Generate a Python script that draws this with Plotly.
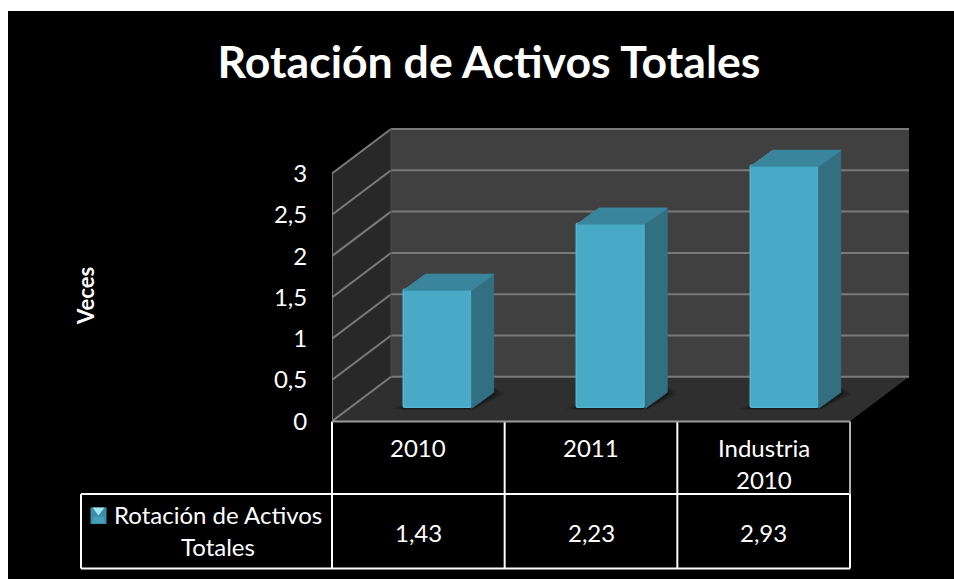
import plotly.graph_objects as go

# ---- data ----
title_text = "Rotación de Activos Totales"
y_title = "Veces"
series_name = "Rotación de Activos Totales"
categories = ["2010", "2011", "Industria 2010"]
category_lines = [["2010"], ["2011"], ["Industria", "2010"]]
values = [1.43, 2.23, 2.93]
tick_values = [0, 0.5, 1, 1.5, 2, 2.5, 3]

# ---- geometry (pixels of the 954x579 picture) ----
W, H = 954, 579
X0, X3 = 332, 850          # front edge of the floor
Y0 = 421.3                 # value 0 on the front edge
PX_UNIT = 82.6             # pixels per unit of value
PX_CAT = (X3 - X0) / 3     # pixels per category
DOM_R, DOM_T = 914, 125    # plot area right/top
DX, DY = 59 / PX_CAT, 44.5 / PX_UNIT      # depth of the box
BX, BY = 22 / PX_CAT, 16 / PX_UNIT        # depth of a bar
BASE = 13 / PX_UNIT
BAR_W = 68 / PX_CAT
BAR_OFF = 0.612
BAR_STEP = 173.5 / PX_CAT
LEFT, RIGHT, TOP_T, ROW1, ROW2, BOT = 81, 850, 421.5, 494, 494, 568.5

FONT = "Lato"
GRID = "#7a7a7a"


def px(x):
    return x / W


def py(y):
    return 1 - y / H


def path(pts):
    return "M " + " L ".join(f"{a},{b}" for a, b in pts) + " Z"


shapes = [
    dict(type="rect", xref="paper", yref="paper", x0=px(8), x1=1, y0=0, y1=py(11),
         fillcolor="black", line_width=0, layer="below"),
]


def poly(pts, fill, opacity=1, layer="below", ref="data", line=None):
    if ref != "data":
        pts = [(px(a), py(b)) for a, b in pts]
    d = dict(type="path", path=path(pts), fillcolor=fill, opacity=opacity, layer=layer,
             line=dict(width=0) if line is None else line)
    d["xref"], d["yref"] = ("x", "y") if ref == "data" else ("paper", "paper")
    shapes.append(d)


top = max(tick_values)
# side wall, back wall, floor
poly([(0, 0), (DX, DY), (DX, DY + top), (0, top)], "#282828")
poly([(DX, DY), (3 + DX, DY), (3 + DX, DY + top), (DX, DY + top)], "#404040")
poly([(0, 0), (3, 0), (3 + DX, DY), (DX, DY)], "#2f2f2f")

grid_line = dict(color=GRID, width=2)
for t in tick_values:
    for a, b, c, d in [(0, t, DX, t + DY), (DX, t + DY, 3 + DX, t + DY)]:
        shapes.append(dict(type="line", xref="x", yref="y", x0=a, y0=b, x1=c, y1=d,
                           line=grid_line, layer="below"))
shapes.append(dict(type="line", xref="x", yref="y", x0=0, y0=0, x1=0, y1=top,
                   line=grid_line, layer="below"))
shapes.append(dict(type="line", xref="x", yref="y", x0=DX, y0=DY, x1=DX, y1=top + DY,
                   line=dict(color="#4a4a4a", width=1), layer="below"))

bar_x = [BAR_OFF + i * BAR_STEP for i in range(len(values))]

# soft floor shadows
for cx in bar_x:
    l, r = cx - BAR_W / 2, cx + BAR_W / 2
    for grow, op in [(0.07, 0.25), (0.04, 0.35), (0.015, 0.5)]:
        poly([(l - grow, BASE - 0.01), (r + 0.01, BASE - 0.01),
              (r + BX + grow * 0.9, BASE + BY - 0.02), (r + BX, BASE + BY + 0.06),
              (l, BASE + 0.05)], "#141414", op)

traces = [
    go.Bar(x=bar_x, y=values, base=[BASE] * len(values), width=BAR_W, name=series_name,
           marker=dict(color="#48aac6", line=dict(color="#52b6d2", width=1.5), cornerradius=2),
           hoverinfo="skip", showlegend=False)
]
for cx, v in zip(bar_x, values):
    r, l = cx + BAR_W / 2, cx - BAR_W / 2
    y_top = BASE + v
    side_x = [r, r + BX, r + BX, r, r]
    side_y = [BASE, BASE + BY, y_top + BY, y_top, BASE]
    traces.append(go.Scatter(x=side_x, y=side_y, mode="lines", fill="toself", fillcolor="#326f80",
                             line=dict(color="#326f80", width=1), hoverinfo="skip", showlegend=False))
    top_x = [l, l + BX, r + BX, r, l]
    top_y = [y_top, y_top + BY, y_top + BY, y_top, y_top]
    traces.append(go.Scatter(x=top_x, y=top_y, mode="lines", fill="toself", fillcolor="#38859c",
                             line=dict(color="#3a8aa2", width=1), hoverinfo="skip", showlegend=False))

# data table lines
tbl = dict(color="white", width=2)
for x0, y0, x1, y1, ln in [
    (LEFT, ROW1, X3, ROW1, tbl),
    (LEFT, BOT, X3, BOT, tbl),
    (LEFT, ROW1, LEFT, BOT, tbl),
    (X0, TOP_T, X0, BOT, tbl),
    (X0 + PX_CAT, TOP_T, X0 + PX_CAT, BOT, tbl),
    (X0 + 2 * PX_CAT, TOP_T, X0 + 2 * PX_CAT, BOT, tbl),
    (X3, ROW1, X3, BOT, tbl),
    (X3, TOP_T, X3, ROW1, dict(color="#b0b0b0", width=2)),
    (X0, TOP_T, X3, TOP_T, dict(color="#9a9a9a", width=2)),
]:
    shapes.append(dict(type="line", xref="paper", yref="paper", x0=px(x0), y0=py(y0),
                       x1=px(x1), y1=py(y1), line=ln, layer="above"))

# legend key of the table: a small bevelled square, bright on its upper facet
K0, K1, KT, KB = 90.5, 106.5, 507.5, 524
KM = (K0 + K1) / 2
poly([(K0, KT), (K1, KT), (K1, KB), (K0, KB)], "#3a8ea6", ref="paper", layer="above")
poly([(K0 + 2, KT), (K1 - 2, KT), (KM, KT + 8)], "#a5e6f2", ref="paper", layer="above")
poly([(K0 + 3, KT + 9), (K1 - 3, KT + 9), (K1 - 2, KB - 1), (K0 + 2, KB - 1)], "#45a0b8",
     ref="paper", layer="above")

annotations = []


def note(x, y, text, xref="paper", size=24, angle=0):
    annotations.append(dict(x=x, y=py(y), xref=xref, yref="paper", text=text, showarrow=False,
                            xanchor="center", yanchor="middle", textangle=angle,
                            font=dict(family=FONT, size=size, color="white")))


for i, lines in enumerate(category_lines):
    for j, line in enumerate(lines):
        note(i + 0.5, 447 + 32 * j, line, xref="x")
    note(i + 0.5, 532, f"{values[i]:.2f}".replace(".", ","), xref="x")

name_lines = ["Rotación de Activos", "Totales"]
note(px(218), 514, name_lines[0])
note(px(218), 546, name_lines[1])
note(px(85), 296, f"<b>{y_title}</b>", size=22, angle=-90)

fig = go.Figure(traces)
fig.update_layout(
    width=W, height=H, margin=dict(l=0, r=0, t=0, b=0), autosize=False,
    paper_bgcolor="white", plot_bgcolor="rgba(0,0,0,0)",
    bargap=0, showlegend=False, shapes=shapes, annotations=annotations,
    title=dict(text=f"<b>{title_text}</b>", x=489 / W, xanchor="center", xref="paper",
               y=py(62), yref="paper", yanchor="middle",
               font=dict(family=FONT, size=44.6, color="white")),
    xaxis=dict(domain=[px(X0), px(DOM_R)], range=[0, (DOM_R - X0) / PX_CAT],
               showgrid=False, zeroline=False, showticklabels=False, ticks="", fixedrange=True),
    yaxis=dict(domain=[py(Y0), py(DOM_T)], range=[0, (Y0 - DOM_T) / PX_UNIT],
               tickmode="array", tickvals=tick_values,
               ticktext=[str(t).replace(".", ",") if t % 1 else str(int(t)) for t in tick_values],
               ticks="outside", ticklen=19, tickcolor="rgba(0,0,0,0)",
               tickfont=dict(family=FONT, size=24, color="white"),
               showgrid=False, zeroline=False, fixedrange=True, automargin=False),
)
fig.write_html("out.html", config=dict(displayModeBar=False),
               post_script="document.body.style.margin='0';document.body.style.overflow='hidden';")
